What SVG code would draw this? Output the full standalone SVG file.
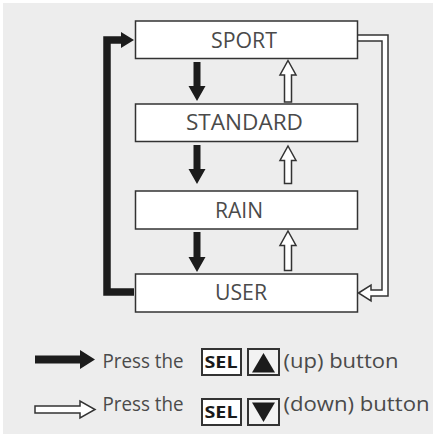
<svg xmlns="http://www.w3.org/2000/svg" width="433" height="434" viewBox="0 0 433 434">
<style>
.box{fill:#fff;stroke:#333;stroke-width:1.5}
.lbl{font-family:"Open Sans","Noto Sans","Liberation Sans",sans-serif;font-size:22px;fill:#4a4a4a}
.leg{font-family:"Open Sans","Noto Sans","Liberation Sans",sans-serif;font-size:20px;fill:#4a4a4a}
.sel{font-family:"Open Sans","Noto Sans","Liberation Sans",sans-serif;font-size:16px;font-weight:bold;fill:#1a1a1a}
.key{fill:#fff;stroke:#333;stroke-width:2}
.keyt{fill:#f2f2f2;stroke:#333;stroke-width:2}
.blk{fill:#1c1c1c}
.hol{fill:#fff;stroke:#333;stroke-width:1.5;stroke-linejoin:miter}
</style>
<rect width="433" height="434" fill="#fff"/>
<rect x="3" y="3" width="430" height="431" fill="#ededed"/>

<g id="connectors">
  <!-- left loop USER -> SPORT (up button) -->
  <path d="M134,292 H107 V40 H122" fill="none" stroke="#1c1c1c" stroke-width="7.5" stroke-linejoin="miter"/>
  <polygon class="blk" points="121,32 134,40 121,48"/>
  <!-- down black arrows -->
  <polygon class="blk" points="193.5,62 200.5,62 200.5,86 205.5,86 197,101 188.5,86 193.5,86"/>
  <polygon class="blk" points="193.5,145 200.5,145 200.5,169 205.5,169 197,184 188.5,169 193.5,169"/>
  <polygon class="blk" points="193.5,232 200.5,232 200.5,257 205.5,257 197,272 188.5,257 193.5,257"/>
  <!-- hollow up arrows -->
  <polygon class="hol" points="288,60.5 296,75 291.5,75 291.5,102 284.5,102 284.5,75 280,75"/>
  <polygon class="hol" points="288,146 296,160.5 291.5,160.5 291.5,183.5 284.5,183.5 284.5,160.5 280,160.5"/>
  <polygon class="hol" points="288,231 296,245.5 291.5,245.5 291.5,270.5 284.5,270.5 284.5,245.5 280,245.5"/>
  <!-- right loop SPORT -> USER (down button) -->
  <path d="M357,38 H385 V293 H371" fill="none" stroke="#333" stroke-width="7.5" stroke-linejoin="miter"/>
  <polygon class="hol" points="358.5,293 371,285 371,301"/>
  <path d="M358,38 H385 V293 H367" fill="none" stroke="#fff" stroke-width="4.5" stroke-linejoin="miter"/>
</g>

<g id="sport">
  <rect class="box" x="135.5" y="21" width="222" height="37.5"/>
  <text class="lbl" x="211" y="48" textLength="66" lengthAdjust="spacingAndGlyphs">SPORT</text>
</g>
<g id="standard">
  <rect class="box" x="135.5" y="104" width="222" height="37.5"/>
  <text class="lbl" x="186" y="130" textLength="117" lengthAdjust="spacingAndGlyphs">STANDARD</text>
</g>
<g id="rain">
  <rect class="box" x="135.5" y="191" width="222" height="38"/>
  <text class="lbl" x="215" y="218" textLength="48" lengthAdjust="spacingAndGlyphs">RAIN</text>
</g>
<g id="user">
  <rect class="box" x="135.5" y="274" width="222" height="38"/>
  <text class="lbl" x="215" y="300" textLength="52" lengthAdjust="spacingAndGlyphs">USER</text>
</g>

<g id="legend-up">
  <polygon class="blk" points="35,355.5 80,355.5 80,350 95,359.5 80,369 80,363.5 35,363.5"/>
  <text class="leg" x="102.5" y="368" textLength="81" lengthAdjust="spacingAndGlyphs">Press the</text>
  <rect class="key" x="202" y="349" width="39" height="26"/>
  <text class="sel" x="204.5" y="368" textLength="33" lengthAdjust="spacingAndGlyphs">SEL</text>
  <rect class="keyt" x="248" y="349" width="31" height="26"/>
  <polygon class="blk" points="252,372.5 263.5,353 275,372.5"/>
  <text class="leg" x="283.5" y="368" textLength="115" lengthAdjust="spacingAndGlyphs">(up) button</text>
</g>
<g id="legend-down">
  <polygon class="hol" points="35,406 80,406 80,401 95,409.5 80,418 80,413 35,413"/>
  <text class="leg" x="102.5" y="411" textLength="81" lengthAdjust="spacingAndGlyphs">Press the</text>
  <rect class="key" x="202" y="399" width="39" height="26"/>
  <text class="sel" x="204.5" y="418" textLength="33" lengthAdjust="spacingAndGlyphs">SEL</text>
  <rect class="keyt" x="248" y="399" width="31" height="26"/>
  <polygon class="blk" points="252,402.5 263.5,422 275,402.5"/>
  <text class="leg" x="283.5" y="411" textLength="146" lengthAdjust="spacingAndGlyphs">(down) button</text>
</g>
</svg>
